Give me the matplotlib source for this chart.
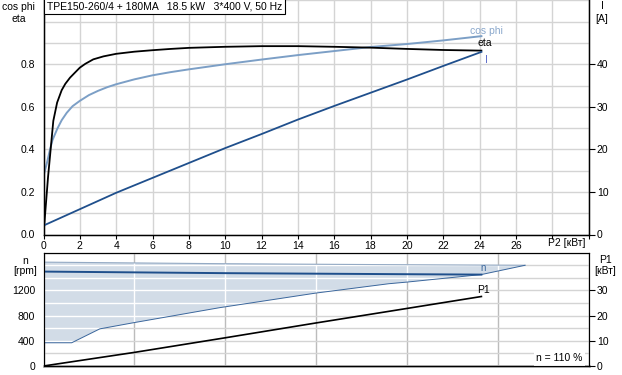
import matplotlib
matplotlib.use("Agg")
import matplotlib.pyplot as plt
import numpy as np

plt.rcParams['font.family'] = ['Liberation Sans', 'DejaVu Sans']
plt.rcParams['font.size'] = 7.5

# upper chart: eta, cos phi, I against P2 [kW]
p2_eta = [0, 0.25, 0.54, 0.75, 1.0, 1.2, 1.46, 1.7, 2, 2.3, 2.74, 3.3, 4, 5, 6, 7, 8,
          10, 12, 14, 16, 18, 20, 22, 24.1]
eta = [0.0, 0.27, 0.534, 0.62, 0.678, 0.708, 0.737, 0.758, 0.784, 0.802, 0.823,
       0.837, 0.849, 0.859, 0.866, 0.872, 0.877, 0.882, 0.885, 0.885, 0.882,
       0.878, 0.872, 0.867, 0.864]

p2_cos = [0, 0.2, 0.36, 0.5, 0.76, 1.0, 1.28, 1.6, 2, 2.5, 3, 3.5, 4, 5, 6, 7, 8,
          10, 12, 14, 16, 18, 20, 22, 24.1]
cos_phi = [0.275, 0.34, 0.4, 0.445, 0.497, 0.537, 0.572, 0.603, 0.628, 0.655, 0.675,
           0.692, 0.706, 0.729, 0.748, 0.763, 0.776, 0.8, 0.822, 0.843, 0.862,
           0.881, 0.895, 0.912, 0.932]

p2_i = [0, 4, 8, 10, 12, 14, 16, 18, 20, 22, 24.1]
current = [2.1, 9.8, 16.8, 20.3, 23.6, 27.0, 30.2, 33.3, 36.4, 39.6, 42.9]

# lower chart: speed range, speed n, P1
p2_up = [0, 10, 19, 26.5]
n_up = [1650, 1625, 1610, 1600]
p2_lo = [0, 1.55, 3.1, 5, 9.7, 15, 19, 20, 24.1, 26.5]
n_lo = [369, 369, 590, 690, 927, 1159, 1307, 1333, 1453, 1600]

p2_n = [0, 10, 19, 24.1]
n_speed = [1500, 1475, 1460, 1452]

p2_p1 = [0, 5, 10, 15, 19, 24.1]
p1 = [0, 5.4, 11.2, 17.1, 21.7, 27.6]

x_ticks = list(range(0, 28, 2))

fig = plt.figure(figsize=(6.22, 3.75), dpi=100)
W, H = 622, 375

grid_c = '#d4d4d4'
light = '#7c9fc6'
dark = '#1f4f8c'

# ---------- upper chart ----------
ax = fig.add_axes([43.5 / W, (H - 234.5) / H, 545.1 / W, 234.1 / H])
ax.set_xlim(0, 30)
ax.set_ylim(0, 1.1)
ax.set_xticks(np.arange(0, 30.1, 2))
ax.set_xticklabels([str(v) for v in x_ticks] + ['', ''])
ax.set_yticks(np.arange(0, 1.11, 0.1), minor=False)
ax.set_yticklabels(['0.0', '', '0.2', '', '0.4', '', '0.6', '', '0.8', '', '', ''])
ax.grid(True, color=grid_c, lw=1.0)
ax.set_axisbelow(True)
ax.tick_params(axis='y', length=0, pad=6)
ax.tick_params(axis='x', length=3, width=0.8, pad=2)
ax.spines['top'].set_visible(False)
for s in ['left', 'bottom', 'right']:
    ax.spines[s].set_linewidth(1.0)

ax.plot(p2_cos, cos_phi, color=light, lw=1.4)
ax.plot(p2_eta, eta, color='black', lw=1.3)

axr = ax.twinx()
axr.set_ylim(0, 55)
axr.set_yticks([0, 10, 20, 30, 40])
axr.tick_params(axis='y', length=4, width=0.8, pad=2)
axr.spines['top'].set_visible(False)
axr.plot(p2_i, current, color=dark, lw=1.3)

ax.text(28.8, -0.036, 'P2 [кВт]', transform=ax.get_xaxis_transform(),
        ha='center', va='center')
ax.text(24.4, 0.957, 'cos phi', color='#8aa8cc', ha='center', va='center')
ax.text(24.3, 0.90, 'eta', color='black', ha='center', va='center')
ax.text(24.4, 0.822, 'I', color='#5a6ac8', ha='center', va='center')

fig.text(18 / W, 1 - 6.5 / H, 'cos phi', ha='center', va='center')
fig.text(19 / W, 1 - 19 / H, 'eta', ha='center', va='center')
fig.text(602 / W, 1 - 6 / H, 'I', ha='center', va='center')
fig.text(602 / W, 1 - 19 / H, '[A]', ha='center', va='center')

fig.text(47 / W, 1 - 6.3 / H, 'TPE150-260/4 + 180MA   18.5 kW   3*400 V, 50 Hz',
         ha='left', va='center', fontsize=7.5,
         bbox=dict(boxstyle='square,pad=0.28', fc='white', ec='black', lw=0.8))

# ---------- lower chart ----------
bx = fig.add_axes([43.5 / W, 9 / H, 545.1 / W, 113.3 / H])
bx.set_xlim(0, 30)
bx.set_ylim(0, 1800)
bx.set_xticks(np.arange(0, 30.1, 5))
bx.set_xticklabels([])
bx.set_yticks(np.arange(0, 1801, 200))
bx.set_yticklabels(['0', '', '400', '', '800', '', '1200', '', '', ''])
bx.tick_params(axis='y', length=0, pad=6)
bx.tick_params(axis='x', length=0)
bx.grid(True, axis='y', color=grid_c, lw=1.0)
bx.grid(True, axis='x', color='#bcbcbc', lw=1.0)
bx.set_axisbelow(True)
bx.spines['bottom'].set_color('#a8a8a8')
bx.spines['bottom'].set_linewidth(2.0)

xs = p2_up + p2_lo[::-1]
ys = n_up + n_lo[::-1]
poly = bx.fill(xs, ys, color='#d2dce7', lw=0, zorder=1)[0]
for yv in np.arange(200, 1800, 200):
    ln = bx.axhline(yv, color='white', lw=1.0, zorder=1.5)
    ln.set_clip_path(poly)
for xv in np.arange(5, 30, 5):
    ln = bx.axvline(xv, color='white', lw=1.0, zorder=1.5)
    ln.set_clip_path(poly)
bx.plot(p2_up, n_up, color='#94aac4', lw=0.8, zorder=2)
bx.plot(p2_lo, n_lo, color='#3a669c', lw=0.7, zorder=2)
bx.plot(p2_n, n_speed, color=dark, lw=1.4, zorder=3)

bxr = bx.twinx()
bxr.set_ylim(0, 45)
bxr.set_yticks([0, 10, 20, 30])
bxr.tick_params(axis='y', length=4, width=0.8, pad=2)
bxr.plot(p2_p1, p1, color='black', lw=1.2)

bx.text(24.2, 1555, 'n', color='#3a669c', ha='center', va='center', fontsize=7)
bx.text(24.2, 1200, 'P1', color='black', ha='center', va='center')
bx.text(28.4, 120, 'n = 110 %', ha='center', va='center',
        bbox=dict(boxstyle='square,pad=0.2', fc='white', ec='none'))

fig.text(25 / W, 1 - 260.5 / H, 'n', ha='center', va='center')
fig.text(25 / W, 1 - 271.5 / H, '[rpm]', ha='center', va='center')
fig.text(605 / W, 1 - 260 / H, 'P1', ha='center', va='center')
fig.text(605 / W, 1 - 271 / H, '[кВт]', ha='center', va='center')

fig.savefig('out.png', dpi=100)
